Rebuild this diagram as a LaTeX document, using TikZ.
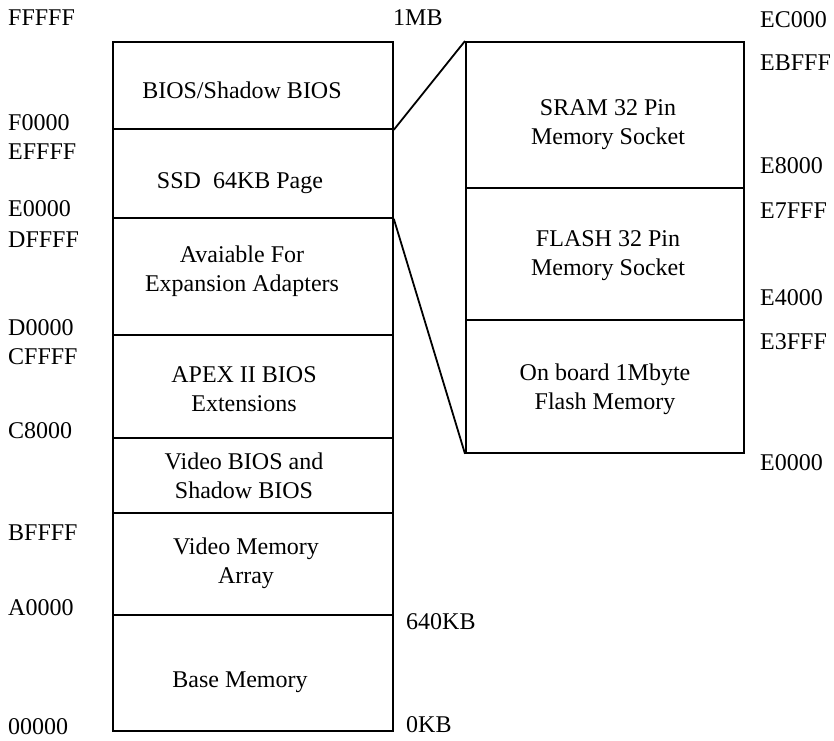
\documentclass[tikz,border=0pt]{standalone}
\usepackage{fontspec}
\setmainfont{Liberation Serif}
\begin{document}
\begin{tikzpicture}[x=1pt,y=-1pt,
  region/.style={draw, line width=1.8pt, inner sep=0pt, anchor=north west},
  lregion/.style={region, minimum width=280pt},
  rregion/.style={region, minimum width=278pt},
  txt/.style={font=\fontsize{24}{29}\selectfont, align=center, inner sep=0pt},
  addr/.style={font=\fontsize{24}{29}\selectfont, anchor=west, inner sep=0pt},
  zoomline/.style={line width=1.8pt}]
\useasboundingbox (0,0) rectangle (834,740);

% 1 MB system memory map
\node[lregion, minimum height=87pt]  (bios)  at (112,41)  {};
\node[lregion, minimum height=89pt]  (ssd)   at (112,128) {};
\node[lregion, minimum height=117pt] (exp)   at (112,217) {};
\node[lregion, minimum height=103pt] (apex)  at (112,334) {};
\node[lregion, minimum height=75pt]  (vbios) at (112,437) {};
\node[lregion, minimum height=102pt] (vmem)  at (112,512) {};
\node[lregion, minimum height=116pt] (base)  at (112,614) {};

\node[txt] (tbios)  at (242,90)  {BIOS/Shadow BIOS};
\node[txt] (tssd)   at (240,183) {SSD\ \ 64KB Page};
\node[txt] (texp)   at (242,271) {Avaiable For\\Expansion Adapters};
\node[txt] (tapex)  at (244,389) {APEX II BIOS\\Extensions};
\node[txt] (tvbios) at (244,476) {Video BIOS and\\Shadow BIOS};
\node[txt] (tvmem)  at (246,563) {Video Memory\\Array};
\node[txt] (tbase)  at (240,682) {Base Memory};

% expanded view of the SSD page
\node[rregion, minimum height=146pt] (sram)    at (465,41)  {};
\node[rregion, minimum height=132pt] (flash)   at (465,187) {};
\node[rregion, minimum height=133pt] (onboard) at (465,319) {};

\node[txt] (tsram)    at (608,125) {SRAM 32 Pin\\Memory Socket};
\node[txt] (tflash)   at (608,256) {FLASH 32 Pin\\Memory Socket};
\node[txt] (tonboard) at (605,389) {On board 1Mbyte\\Flash Memory};

\draw[zoomline] (bios.south east) -- (sram.north west);
\draw[zoomline] (ssd.south east) -- (onboard.south west);

% addresses, left column
\node[addr] (aFFFFF) at (8,18)  {FFFFF};
\node[addr] (aF0000) at (8,123) {F0000};
\node[addr] (aEFFFF) at (8,152) {EFFFF};
\node[addr] (aE0000) at (8,209) {E0000};
\node[addr] (aDFFFF) at (8,240) {DFFFF};
\node[addr] (aD0000) at (8,328) {D0000};
\node[addr] (aCFFFF) at (8,357) {CFFFF};
\node[addr] (aC8000) at (8,431) {C8000};
\node[addr] (aBFFFF) at (8,533) {BFFFF};
\node[addr] (aA0000) at (8,608) {A0000};
\node[addr] (a00000) at (8,727) {00000};

% sizes
\node[addr] (s1MB)   at (393,18)  {1MB};
\node[addr] (s640KB) at (406,622) {640KB};
\node[addr] (s0KB)   at (406,725) {0KB};

% addresses, expanded view
\node[addr] (rEC000) at (760,20)  {EC000};
\node[addr] (rEBFFF) at (760,63)  {EBFFF};
\node[addr] (rE8000) at (760,166) {E8000};
\node[addr] (rE7FFF) at (760,211) {E7FFF};
\node[addr] (rE4000) at (760,298) {E4000};
\node[addr] (rE3FFF) at (760,342) {E3FFF};
\node[addr] (rE0000) at (760,463) {E0000};
\end{tikzpicture}
\end{document}
